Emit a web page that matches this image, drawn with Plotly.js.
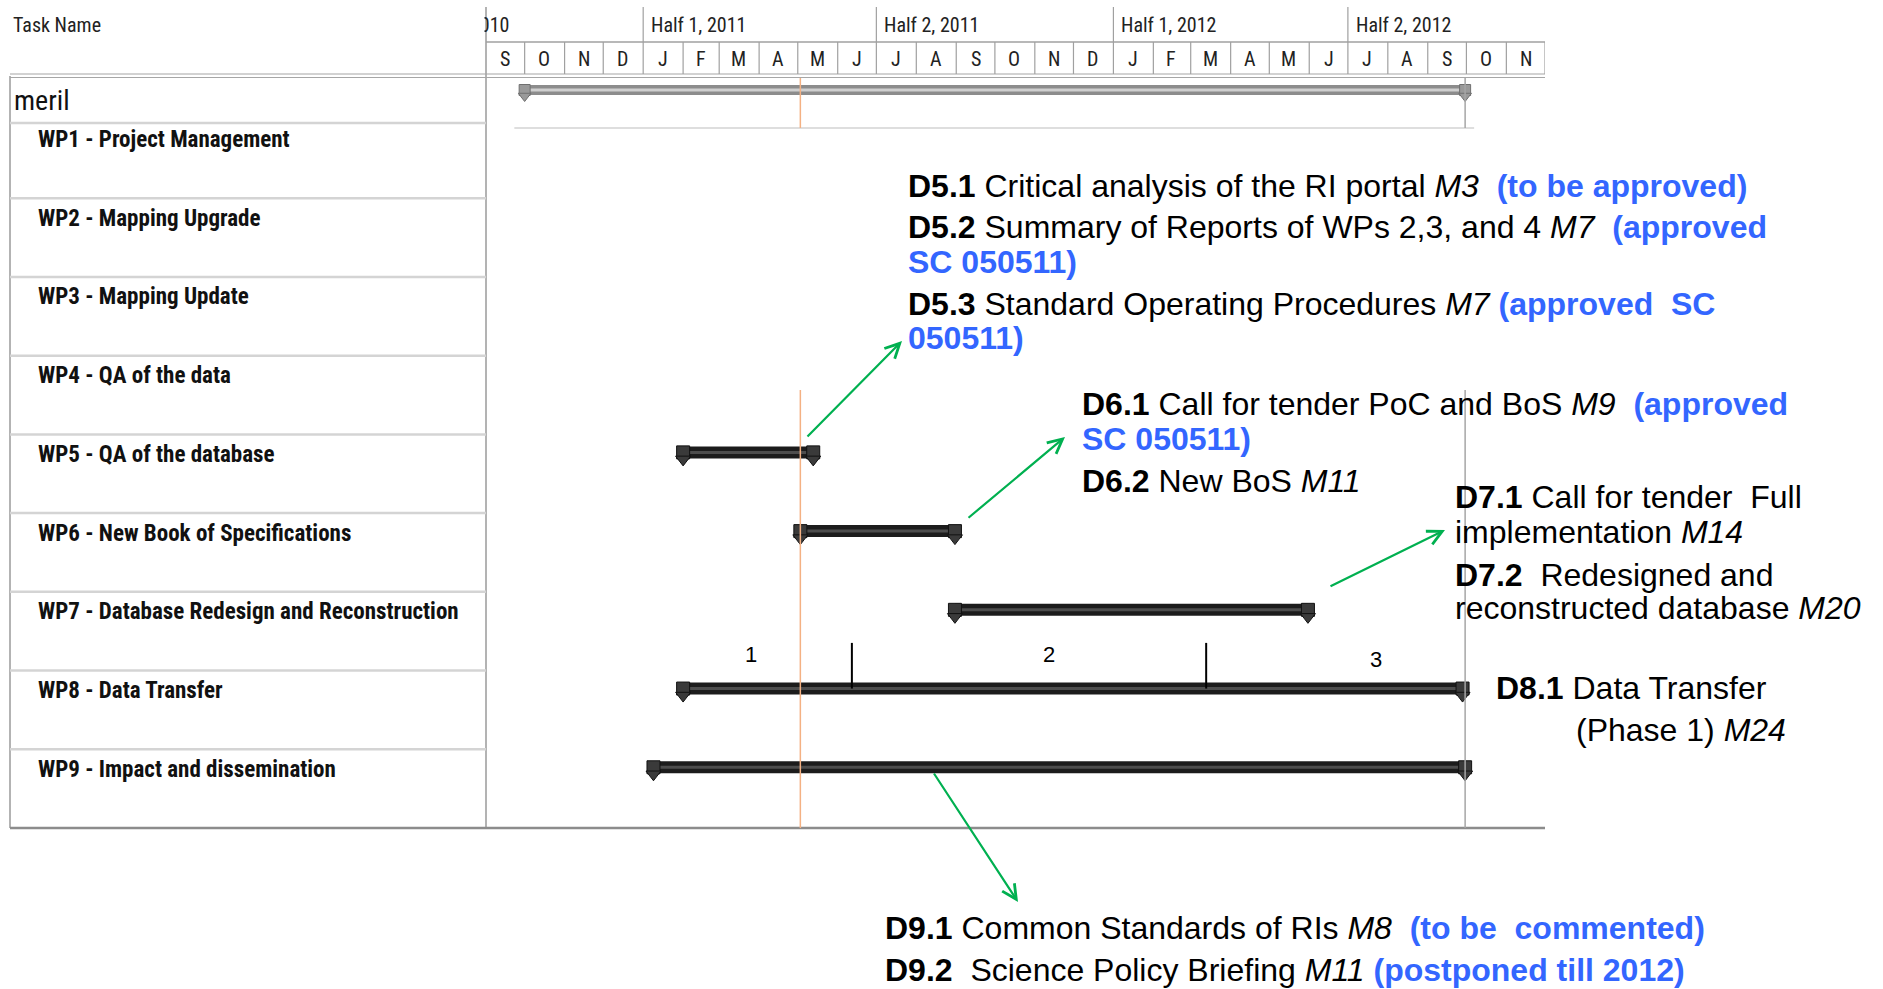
<!DOCTYPE html>
<html>
<head>
<meta charset="utf-8">
<script src="https://cdn.plot.ly/plotly-3.0.1.min.js"></script>
<style>html,body{margin:0;padding:0;background:#fff;}#chart{width:1883px;height:989px;}</style>
</head>
<body>
<div id="chart"></div>
<script>
// ---------------- DATA ----------------
const tasks = ['WP1 - Project Management','WP2 - Mapping Upgrade','WP3 - Mapping Update','WP4 - QA of the data',
  'WP5 - QA of the database','WP6 - New Book of Specifications','WP7 - Database Redesign and Reconstruction',
  'WP8 - Data Transfer','WP9 - Impact and dissemination'];
const taskStart = [null,null,null,null,'2011-02-01','2011-05-03','2011-08-31','2011-02-01','2011-01-09'];
const taskEnd   = [null,null,null,null,'2011-05-13','2011-08-31','2012-05-31','2012-09-28','2012-09-30'];
const summaryName = 'meril';
const summaryStart = '2010-10-01';
const summaryEnd = '2012-09-30';
const todayDate = '2011-05-03';
const projectEndDate = '2012-09-30';
const phaseTask = 'WP8 - Data Transfer';
const phaseLabels = ['1','2','3'];
const phaseLabelDates = ['2011-03-26','2011-11-12','2012-07-23'];
const phaseBreaks = ['2011-06-12','2012-03-13'];
const months = ['2010-09-01','2010-10-01','2010-11-01','2010-12-01','2011-01-01','2011-02-01','2011-03-01','2011-04-01',
  '2011-05-01','2011-06-01','2011-07-01','2011-08-01','2011-09-01','2011-10-01','2011-11-01','2011-12-01',
  '2012-01-01','2012-02-01','2012-03-01','2012-04-01','2012-05-01','2012-06-01','2012-07-01','2012-08-01',
  '2012-09-01','2012-10-01','2012-11-01','2012-12-01'];
const monthLetters = ['S','O','N','D','J','F','M','A','M','J','J','A','S','O','N','D','J','F','M','A','M','J','J','A','S','O','N'];
const halfStarts = ['2010-07-01','2011-01-01','2011-07-01','2012-01-01','2012-07-01'];
const halfLabels = ['Half 2, 2010','Half 1, 2011','Half 2, 2011','Half 1, 2012','Half 2, 2012'];
const headerTaskName = 'Task Name';
const BLUE = '#3366ff';
const blue = s => '<span style="color:' + BLUE + '"><b>' + s + '</b></span>';
const deliverableLines = [
  '<b>D5.1</b> Critical analysis of the RI portal <i>M3</i>&nbsp; ' + blue('(to be approved)'),
  '<b>D5.2</b> Summary of Reports of WPs 2,3, and 4 <i>M7</i>&nbsp; ' + blue('(approved'),
  blue('SC 050511)'),
  '<b>D5.3</b> Standard Operating Procedures <i>M7</i> ' + blue('(approved&nbsp; SC'),
  blue('050511)'),
  '<b>D6.1</b> Call for tender PoC and BoS <i>M9</i>&nbsp; ' + blue('(approved'),
  blue('SC 050511)'),
  '<b>D6.2</b> New BoS <i>M11</i>',
  '<b>D7.1</b> Call for tender&nbsp; Full',
  'implementation <i>M14</i>',
  '<b>D7.2</b>&nbsp; Redesigned and',
  'reconstructed database <i>M20</i>',
  '<b>D8.1</b> Data Transfer',
  '(Phase 1) <i>M24</i>',
  '<b>D9.1</b> Common Standards of RIs <i>M8</i>&nbsp; ' + blue('(to be&nbsp; commented)'),
  '<b>D9.2</b>&nbsp; Science Policy Briefing <i>M11</i> ' + blue('(postponed till 2012)')
];

// ---------------- LAYOUT HELPERS (pixels -> paper) ----------------
const W = 1883, H = 989;
const px = x => x / W;
const py = y => 1 - y / H;
const GX0 = 486, GX1 = 1545;       // gantt area
const TX0 = 10;                    // table left
const ROW_TOP = 119.5, ROW_BOT = 828, PITCH = (ROW_BOT - ROW_TOP) / 9;
const CENTER_OFF = 18;             // bar center below row top
const yTop = -CENTER_OFF / PITCH;
const yBot = (ROW_BOT - ROW_TOP - CENTER_OFF) / PITCH;
const CAP_SHIFT = 7 / PITCH;       // end-cap point sits lower than the bar
const labelFont = 'Liberation Sans Narrow, Arial Narrow, Roboto Condensed, Roboto, sans-serif';
const textFont = 'Liberation Sans, Arial, sans-serif';
const t0 = new Date(months[0]).getTime(), t1 = new Date(months[months.length-1]).getTime();
const dateToPaper = d => px(GX0 + (new Date(d).getTime() - t0) / (t1 - t0) * (GX1 - GX0));

// ---------------- TRACES ----------------
const traces = [];
const capTraces = (xs, name, ya, yaShift, col, edge, w) => [
  {x:xs, y:[name, name], xaxis:'x', yaxis:ya, mode:'markers', hoverinfo:'skip', showlegend:false,
   marker:{symbol:'square', size:w, color:col, line:{color:edge, width:1}}},
  {x:xs, y:[name, name], xaxis:'x', yaxis:yaShift, mode:'markers', hoverinfo:'skip', showlegend:false,
   marker:{symbol:'triangle-down', size:w, color:col, line:{color:edge, width:1}}}
];
// summary bar
traces.push({x:[summaryStart, summaryEnd], y:[summaryName, summaryName], xaxis:'x', yaxis:'y2', mode:'lines',
  line:{color:'#8c8c8c', width:10}, hoverinfo:'skip', showlegend:false});
traces.push({x:[summaryStart, summaryEnd], y:[summaryName, summaryName], xaxis:'x', yaxis:'y2', mode:'lines',
  line:{color:'#cfcfcf', width:3}, hoverinfo:'skip', showlegend:false});
traces.push(...capTraces([summaryStart, summaryEnd], summaryName, 'y2', 'y4', '#9a9a9a', '#707070', 11));
// task bars
tasks.forEach((t, i) => {
  if (!taskStart[i]) return;
  traces.push({x:[taskStart[i], taskEnd[i]], y:[t, t], mode:'lines', line:{color:'#1c1c1c', width:12},
    hoverinfo:'skip', showlegend:false});
  traces.push({x:[taskStart[i], taskEnd[i]], y:[t, t], mode:'lines', line:{color:'#4d4d4d', width:3},
    hoverinfo:'skip', showlegend:false});
  traces.push(...capTraces([taskStart[i], taskEnd[i]], t, 'y', 'y3', '#3a3a3a', '#111', 13));
});

// ---------------- SHAPES ----------------
const shapes = [];
const L = (x0,y0,x1,y1,color,width) => shapes.push({type:'line', x0, y0, x1, y1,
  xref:'paper', yref:'paper', line:{color, width}, layer:'above'});
// column divider
L(px(GX0), py(7), px(GX0), py(ROW_BOT), '#9a9a9a', 1.5);
// left border
L(px(TX0), py(76), px(TX0), py(ROW_BOT), '#9a9a9a', 1.5);
// month row top line
L(px(GX0), py(42), px(GX1), py(42), '#a0a0a0', 1.5);
// header bottom double line
L(px(TX0), py(74), px(GX1), py(74), '#a6a6a6', 1.2);
L(px(TX0), py(77.5), px(GX1), py(77.5), '#a6a6a6', 1.2);
// month separators
months.forEach((m, i) => { if (i === 0) return;
  shapes.push({type:'line', xref:'x', yref:'paper', x0:m, x1:m, y0:py(42), y1:py(74), line:{color:'#a0a0a0', width:1.2}, layer:'above'}); });
// half dividers
halfStarts.forEach((h, i) => { if (i === 0) return;
  shapes.push({type:'line', xref:'x', yref:'paper', x0:h, x1:h, y0:py(7), y1:py(42), line:{color:'#a0a0a0', width:1.2}, layer:'above'}); });
// row separators (task column)
L(px(TX0), py(123), px(GX0), py(123), '#d4d4d4', 2.5);
for (let i = 1; i < tasks.length; i++) {
  shapes.push({type:'line', xref:'paper', yref:'y', x0:px(TX0), x1:px(GX0), y0:i + yTop, y1:i + yTop,
    line:{color:'#d4d4d4', width:2.5}, layer:'above'});
}
// summary row bottom line in gantt
shapes.push({type:'line', xref:'x', yref:'paper', x0:'2010-09-23', x1:'2012-10-07', y0:py(128), y1:py(128), line:{color:'#bdbdbd', width:1.2}});
// bottom line
L(px(TX0), py(ROW_BOT), px(GX1), py(ROW_BOT), '#8c8c8c', 2.5);
// today line (orange) and project end line (gray), partly hidden by the text box
[[todayDate,'#f4b183'],[projectEndDate,'#a6a6a6']].forEach(([d,c]) => {
  shapes.push({type:'line', xref:'x', yref:'paper', x0:d, x1:d, y0:py(78), y1:py(128), line:{color:c, width:1.5}});
  shapes.push({type:'line', xref:'x', yref:'paper', x0:d, x1:d, y0:py(390), y1:py(ROW_BOT), line:{color:c, width:1.5}});
});
// WP8 phase breaks
const phaseIdx = tasks.indexOf(phaseTask);
phaseBreaks.forEach(d => shapes.push({type:'line', xref:'x', yref:'y', x0:d, x1:d, y0:phaseIdx - 0.58, y1:phaseIdx,
  line:{color:'#000', width:2}, layer:'above'}));

// ---------------- ANNOTATIONS ----------------
const ann = [];
// header: half labels (the first one is clipped by the task-name column)
halfStarts.forEach((h, i) => ann.push({xref:'paper', yref:'paper', x:dateToPaper(h), y:py(25), xanchor:'left', yanchor:'middle',
  xshift:6, text:halfLabels[i], showarrow:false, font:{family:labelFont, size:20, color:'#222'}}));
// white mask emulating the column clip
ann.push({xref:'paper', yref:'paper', x:px(GX0 - 1), y:py(23), xanchor:'right', yanchor:'middle', text:' ',
  width:200, height:34, bgcolor:'#ffffff', showarrow:false});
ann.push({xref:'paper', yref:'paper', x:px(11), y:py(25), xanchor:'left', yanchor:'middle', text:headerTaskName,
  showarrow:false, font:{family:labelFont, size:20, color:'#222'}});
// month letters
monthLetters.forEach((m, i) => {
  const a = new Date(months[i]).getTime(), b = new Date(months[i+1]).getTime();
  ann.push({xref:'x', yref:'paper', x:new Date((a+b)/2).toISOString().slice(0,10), y:py(59), xanchor:'center', yanchor:'middle',
    text:m, showarrow:false, font:{family:labelFont, size:20, color:'#222'}});
});
// summary + task labels
ann.push({xref:'paper', yref:'y2', x:px(12), y:summaryName, yshift:-10, xanchor:'left', yanchor:'middle', text:summaryName,
  showarrow:false, font:{family:labelFont, size:28, color:'#111'}});
tasks.forEach(t => ann.push({xref:'paper', yref:'y', x:px(36), y:t, yshift:-2, xanchor:'left', yanchor:'middle',
  text:'<b>' + t + '</b>', showarrow:false, font:{family:labelFont, size:23, color:'#111'}}));
// phase labels
phaseLabels.forEach((p, i) => ann.push({xref:'x', yref:'y', x:phaseLabelDates[i], y:phaseIdx - (i === 2 ? 0.37 : 0.43),
  text:p, showarrow:false, xanchor:'center', yanchor:'middle', font:{family:textFont, size:22, color:'#000'}}));
// deliverable text lines (positions in pixels)
const linePos = [[906,186],[906,227],[906,262],[906,304],[906,338],[1080,404],[1080,439],[1080,481],
  [1453,497],[1453,532],[1453,575],[1453,608],[1494,688],[1574,730],[883,928],[883,970]];
deliverableLines.forEach((t, i) => ann.push({xref:'paper', yref:'paper', x:px(linePos[i][0]), y:py(linePos[i][1]),
  xanchor:'left', yanchor:'middle', text:t, showarrow:false, font:{family:textFont, size:32, color:'#000'}}));
// green arrows: [head x, head y, tail x, tail y]
const arrows = [[902,341,806,438],[1065,437,967,519],[1445,530,1329,587],[1018,902,933,772]];
arrows.forEach(a => ann.push({xref:'paper', yref:'paper', x:px(a[0]), y:py(a[1]), ax:a[2]-a[0], ay:a[3]-a[1],
  axref:'pixel', ayref:'pixel', text:'', showarrow:true, arrowhead:5, arrowsize:1.3, arrowwidth:2.2,
  arrowcolor:'#00b050', standoff:0, startstandoff:0}));

const hid = {showgrid:false, zeroline:false, showticklabels:false, showline:false, ticks:''};
const layout = {
  width:W, height:H, margin:{l:0, r:0, t:0, b:0}, paper_bgcolor:'#fff', plot_bgcolor:'rgba(0,0,0,0)',
  showlegend:false,
  xaxis:Object.assign({type:'date', range:[months[0], months[months.length-1]], domain:[px(GX0), px(GX1)], anchor:'y'}, hid),
  yaxis:Object.assign({type:'category', categoryarray:tasks, categoryorder:'array', range:[yBot, yTop],
    domain:[py(ROW_BOT), py(ROW_TOP)]}, hid),
  yaxis3:Object.assign({type:'category', categoryarray:tasks, categoryorder:'array', range:[yBot - CAP_SHIFT, yTop - CAP_SHIFT],
    overlaying:'y', anchor:'x'}, hid),
  yaxis2:Object.assign({type:'category', categoryarray:[summaryName], range:[1.0, -0.467], domain:[py(120), py(76)], anchor:'x'}, hid),
  yaxis4:Object.assign({type:'category', categoryarray:[summaryName], range:[1.0 - 0.2, -0.467 - 0.2], overlaying:'y2', anchor:'x'}, hid),
  shapes, annotations:ann
};
Plotly.newPlot('chart', traces, layout, {staticPlot:true, displayModeBar:false});
</script>
</body>
</html>
